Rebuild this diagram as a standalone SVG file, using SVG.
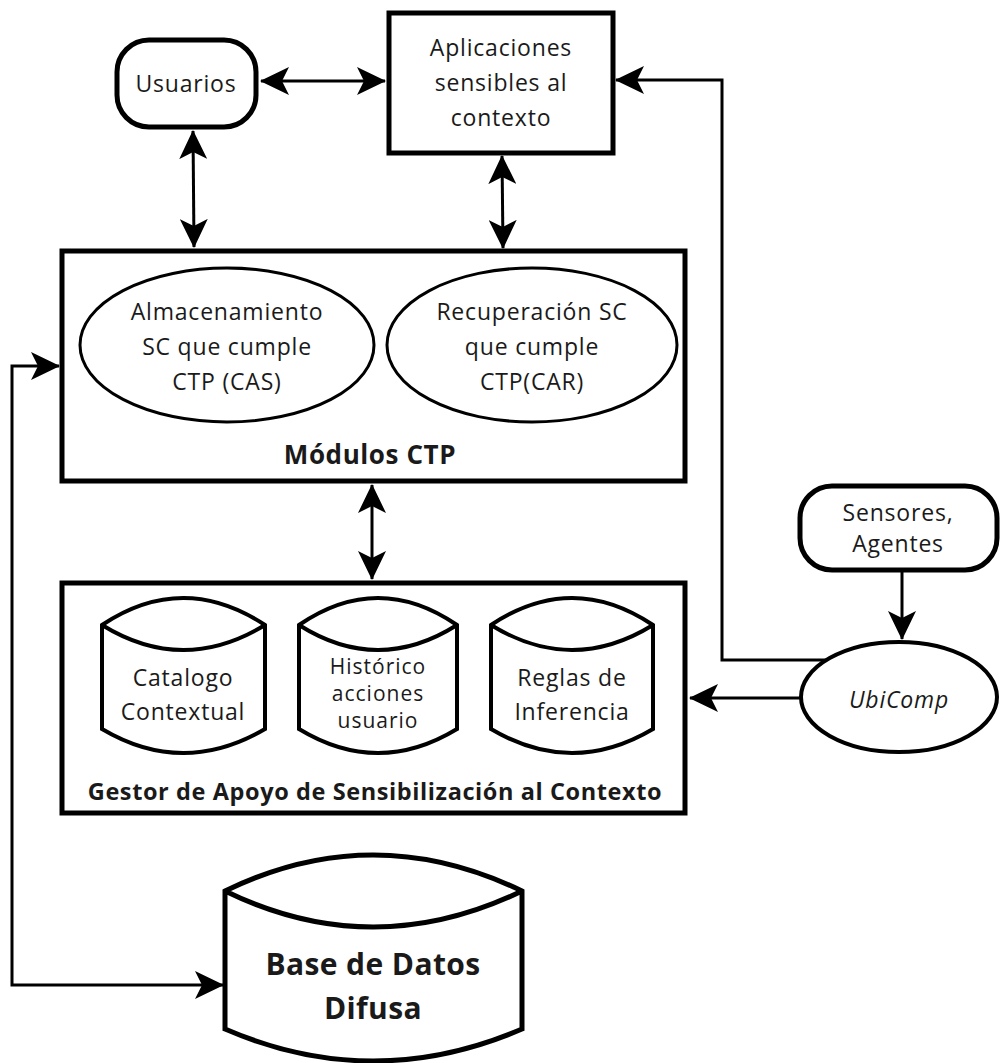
<svg xmlns="http://www.w3.org/2000/svg" width="1001" height="1063" viewBox="0 0 1001 1063">
  <style>
    .box { fill: #fff; stroke: #000; stroke-width: 5; }
    .shape { fill: #fff; stroke: #000; stroke-width: 4; }
    .thin { fill: #fff; stroke: #000; stroke-width: 3; }
    .wire { fill: none; stroke: #000; stroke-width: 3; }
    text { font-family: "Open Sans", "DejaVu Sans", sans-serif; fill: #1a1a1a; text-anchor: middle; dominant-baseline: central; }
    .lbl { font-size: 23px; letter-spacing: 0.8px; }
    .tight { font-size: 21px; letter-spacing: 1px; }
    .title { font-size: 26px; font-weight: bold; letter-spacing: 0.6px; }
    .caption { font-size: 23.5px; font-weight: bold; letter-spacing: 0.6px; }
    .big { font-size: 30px; font-weight: bold; letter-spacing: 0.4px; }
  </style>
  <defs>
    <marker id="head" viewBox="0 0 29 28" refX="28" refY="14" markerWidth="29" markerHeight="28" markerUnits="userSpaceOnUse" orient="auto-start-reverse">
      <path d="M29,14 L0,0 L7,14 L0,28 Z" fill="#000"/>
    </marker>
  </defs>

  <!-- connectors -->
  <g id="connectors">
    <line class="wire" x1="261" y1="81" x2="385" y2="81" marker-start="url(#head)" marker-end="url(#head)"/>
    <line class="wire" x1="193" y1="131" x2="194" y2="247" marker-start="url(#head)" marker-end="url(#head)"/>
    <line class="wire" x1="502" y1="156" x2="503" y2="248" marker-start="url(#head)" marker-end="url(#head)"/>
    <line class="wire" x1="372" y1="485" x2="372" y2="579" marker-start="url(#head)" marker-end="url(#head)"/>
    <polyline class="wire" points="827,660 722,660 722,80 616,80" marker-end="url(#head)"/>
    <line class="wire" x1="902" y1="571" x2="902" y2="639" marker-end="url(#head)"/>
    <line class="wire" x1="800" y1="698" x2="690" y2="698" marker-end="url(#head)"/>
    <polyline class="wire" points="223,985 12,985 12,366 59,366" marker-start="url(#head)" marker-end="url(#head)"/>
  </g>

  <!-- user node -->
  <g id="usuarios">
    <rect class="box" x="117" y="40" width="139" height="87" rx="32" ry="32" stroke-width="4"/>
    <text class="lbl" x="186" y="83">Usuarios</text>
  </g>

  <!-- context-aware applications -->
  <g id="aplicaciones">
    <rect class="box" x="389" y="13" width="224" height="140"/>
    <text class="lbl" x="501" y="47">Aplicaciones</text>
    <text class="lbl" x="501" y="82">sensibles al</text>
    <text class="lbl" x="501" y="117">contexto</text>
  </g>

  <!-- CTP modules -->
  <g id="modulos-ctp">
    <rect class="box" x="62" y="251" width="623" height="230"/>
    <ellipse class="thin" cx="227" cy="345" rx="147" ry="77"/>
    <text class="lbl" x="227" y="311">Almacenamiento</text>
    <text class="lbl" x="227" y="346">SC que cumple</text>
    <text class="lbl" x="227" y="381">CTP (CAS)</text>
    <ellipse class="thin" cx="532" cy="345" rx="145" ry="77"/>
    <text class="lbl" x="532" y="311">Recuperación SC</text>
    <text class="lbl" x="532" y="346">que cumple</text>
    <text class="lbl" x="532" y="381">CTP(CAR)</text>
    <text class="title" x="370" y="454">Módulos CTP</text>
  </g>

  <!-- context support manager -->
  <g id="gestor">
    <rect class="box" x="62" y="583" width="623" height="230"/>
    <path class="shape" d="M102,625 Q183,571 265,625 L265,729 Q183,777 102,729 Z M102,625 Q183,675 265,625"/>
    <text class="lbl" x="183" y="677">Catalogo</text>
    <text class="lbl" x="183" y="711">Contextual</text>
    <path class="shape" d="M299,625 Q378,571 457,625 L457,729 Q378,777 299,729 Z M299,625 Q378,675 457,625"/>
    <text class="tight" x="378" y="666">Histórico</text>
    <text class="tight" x="378" y="693">acciones</text>
    <text class="tight" x="378" y="720">usuario</text>
    <path class="shape" d="M491,625 Q572,571 653,625 L653,729 Q572,777 491,729 Z M491,625 Q572,675 653,625"/>
    <text class="lbl" x="572" y="677">Reglas de</text>
    <text class="lbl" x="572" y="711">Inferencia</text>
    <text class="caption" x="375" y="791">Gestor de Apoyo de Sensibilización al Contexto</text>
  </g>

  <!-- sensors and agents -->
  <g id="sensores">
    <rect class="box" x="800" y="486" width="197" height="84" rx="32" ry="32" stroke-width="4"/>
    <text class="lbl" x="898" y="512">Sensores,</text>
    <text class="lbl" x="898" y="543">Agentes</text>
  </g>

  <!-- ubiquitous computing -->
  <g id="ubicomp">
    <ellipse class="shape" cx="899" cy="697" rx="98" ry="55"/>
    <text class="lbl" x="899" y="699" font-style="italic">UbiComp</text>
  </g>

  <!-- fuzzy database -->
  <g id="base-datos">
    <path class="box" d="M225,891 Q373,819 522,891 L522,1029 Q373,1093 225,1029 Z M225,891 Q373,963 522,891"/>
    <text class="big" x="373" y="963">Base de Datos</text>
    <text class="big" x="373" y="1007">Difusa</text>
  </g>
</svg>
